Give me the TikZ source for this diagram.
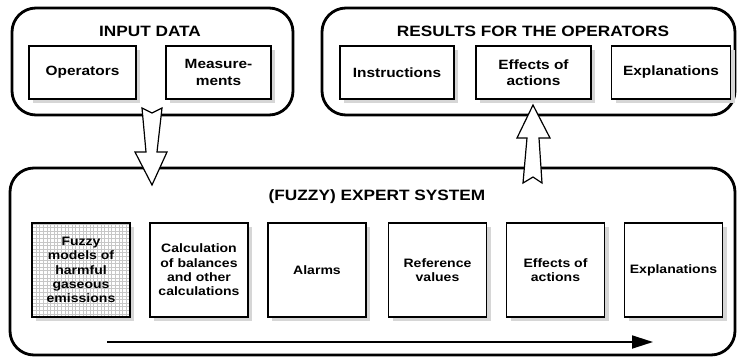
\documentclass[tikz,border=0pt]{standalone}
\usepackage{fontspec}
\setmainfont{Liberation Sans}[FakeStretch=1.15]
\usetikzlibrary{shadows,arrows.meta}
\begin{document}
\begin{tikzpicture}[x=1pt,y=-1pt,
  container/.style={draw, line width=2.8pt, rounded corners=24pt, inner sep=0pt},
  box/.style={draw, line width=1.8pt, fill=white, align=center,
    font=\bfseries\fontsize{13.4}{16.5}\selectfont, inner sep=0pt,
    drop shadow={shadow xshift=4pt, shadow yshift=-4pt, fill=black!16, opacity=1}},
  tbox/.style={box, minimum height=53pt},
  sbox/.style={box, font=\bfseries\fontsize{12.2}{14.4}\selectfont, minimum width=98pt, minimum height=94pt},
  title/.style={font=\bfseries\fontsize{15}{18}\selectfont, inner sep=0pt},
  hollow/.style={draw, line width=1.2pt, fill=white, line join=miter},
  flow/.style={line width=1.8pt, -{Triangle[length=21pt,width=13pt]}}
]
\useasboundingbox (0,0) rectangle (737,357);

% containers
\node[container, minimum width=281pt, minimum height=107pt] (inp) at (152.5,61.5) {};
\node[container, minimum width=413pt, minimum height=107pt] (res) at (528.5,61.5) {};
\node[container, minimum width=725pt, minimum height=187pt] (es) at (372.5,261.5) {};

% titles
\node[title] (tinp) at (150,31) {INPUT DATA};
\node[title] (tres) at (533,31) {RESULTS FOR THE OPERATORS};
\node[title] (tes) at (377,197) {(FUZZY) EXPERT SYSTEM};

% input boxes
\node[tbox, minimum width=107pt] (op) at (82.5,72.5) {Operators};
\node[tbox, minimum width=105pt] (me) at (218.5,72.5) {Measure-\\ments};

% result boxes
\node[tbox, minimum width=114pt] (ins) at (397,72.5) {Instructions};
\node[tbox, minimum width=115pt] (eff) at (533.5,72.5) {Effects of\\actions};
\node[tbox, minimum width=119pt] (exp) at (671,72.5) {Explanations};

% expert system boxes
\node[sbox, path picture={\draw[black!22, line width=0.3pt, step=3.6pt]
   (path picture bounding box.south west) grid (path picture bounding box.north east);}]
   (fz) at (81,270) {Fuzzy\\models of\\harmful\\gaseous\\emissions};
\node[sbox] (cb) at (199,270) {Calculation\\of balances\\and other\\calculations};
\node[sbox] (al) at (317,270) {Alarms};
\node[sbox] (rv) at (437.5,270) {Reference\\values};
\node[sbox] (ea) at (555.5,270) {Effects of\\actions};
\node[sbox] (ex) at (673.5,270) {Explanations};

% hollow arrows
\draw[hollow] (142,108) -- (152,113) -- (162,108) -- (157,152) -- (167,152)
  -- (152,185) -- (135,152) -- (146,152) -- cycle;
\draw[hollow] (533,105) -- (550,138) -- (539,138) -- (542,183) -- (533,177)
  -- (523,183) -- (527,138) -- (517,138) -- cycle;

% flow arrow
\coordinate (f1) at (107,342);
\coordinate (f2) at (653,342);
\draw[flow] (f1) -- (f2);
\end{tikzpicture}
\end{document}
